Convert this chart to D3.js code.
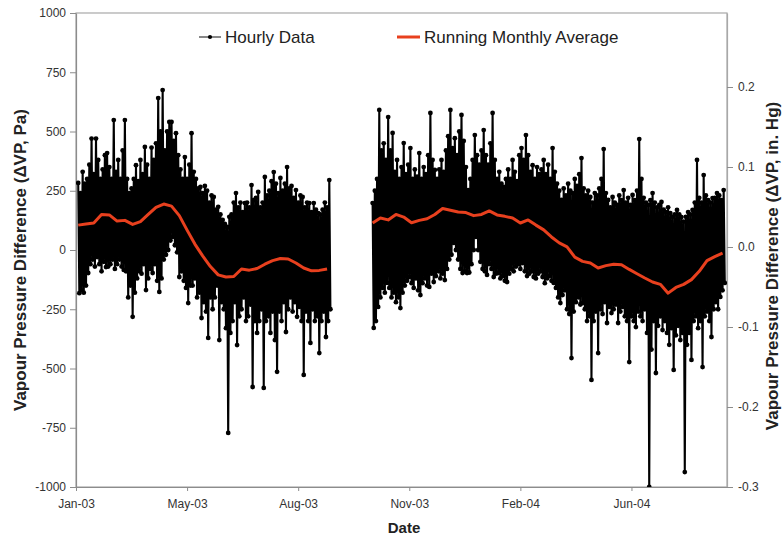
<!DOCTYPE html>
<html>
<head>
<meta charset="utf-8">
<script src="https://cdn.jsdelivr.net/npm/d3@7"></script>
<style>
  html, body { margin: 0; padding: 0; background: #fff; }
  svg { display: block; font-family: "Liberation Sans", Arial, sans-serif; }
</style>
</head>
<body>
<svg id="chart" width="784" height="539"></svg>
<script>
// Time axis origin and major tick spacing (days)
const axisStart = Date.UTC(2003, 0, 23);
const axisSpanDays = 586;
const tickStepDays = 100;
const tickCount = 6;

// Left (Pa) and right (in. Hg) tick values
const paTicks = [-1000, -750, -500, -250, 0, 250, 500, 750, 1000];
const inHgTicks = [-0.3, -0.2, -0.1, 0.0, 0.1, 0.2];

// Hourly record, first logging period: start day (from axis origin), 2-day step,
// daily upper and lower extremes in Pa
const seg1StartDay = 2;
const seg1High = [
  283, 240, 330, 280, 300, 360, 470, 320, 470, 380,
  300, 340, 400, 409, 350, 300, 548, 330, 380, 300,
  420, 548, 300, 240, 260, 300, 358, 290, 380, 320,
  435, 360, 300, 432, 380, 450, 641, 500, 675, 420,
  500, 540, 540, 460, 493, 400, 340, 300, 392, 300,
  360, 493, 330, 300, 260, 266, 240, 270, 250, 200,
  230, 224, 170, 182, 150, 127, 110, 97, 140, 150,
  200, 240, 180, 200, 160, 198, 200, 180, 274, 210,
  220, 245, 180, 200, 308, 230, 250, 290, 329, 280,
  240, 304, 250, 280, 350, 260, 270, 220, 253, 200,
  230, 224, 180, 200, 198, 160, 198, 170, 156, 150,
  170, 200, 180, 295
];
const seg1Low = [
  -182, -170, -180, -150, -97, -60, -40, -70, -30, -60,
  -90, -50, -72, -70, -60, -40, -80, -60, -40, -70,
  -84, -90, -200, -150, -282, -180, -120, -90, -100, -60,
  -169, -120, -80, -97, -60, -130, -177, -120, -40, -20,
  0, 40, 55, 20, -10, -114, -90, -130, -160, -224,
  -150, -150, -120, -200, -180, -287, -220, -260, -371, -200,
  -250, -200, -150, -380, -220, -250, -330, -772, -350, -300,
  -220, -401, -280, -250, -200, -300, -280, -230, -578, -300,
  -350, -300, -250, -582, -300, -280, -350, -260, -380, -514,
  -260, -300, -220, -346, -250, -200, -260, -220, -282, -240,
  -300, -527, -260, -300, -392, -250, -300, -280, -435, -300,
  -260, -367, -300, -250
];

// Hourly record, second logging period
const seg2StartDay = 267;
const seg2High = [
  198, 250, 300, 591, 420, 450, 380, 561, 420, 494,
  330, 380, 300, 350, 451, 320, 360, 430, 300, 340,
  310, 409, 300, 350, 320, 400, 578, 380, 338, 300,
  340, 380, 330, 420, 480, 591, 430, 472, 400, 500,
  570, 460, 350, 253, 300, 380, 485, 400, 360, 420,
  506, 400, 360, 450, 578, 380, 300, 330, 280, 266,
  300, 340, 300, 380, 330, 290, 400, 430, 380, 485,
  400, 330, 358, 300, 350, 320, 340, 380, 320, 360,
  300, 430, 330, 280, 250, 211, 260, 230, 280, 250,
  240, 300, 270, 320, 388, 260, 230, 250, 224, 200,
  240, 230, 260, 300, 426, 240, 211, 180, 224, 200,
  190, 230, 210, 253, 200, 220, 190, 232, 210, 250,
  468, 300, 220, 200, 190, 210, 240, 200, 180, 190,
  203, 170, 160, 180, 156, 140, 150, 169, 150, 139,
  120, 140, 160, 150, 169, 200, 380, 220, 200, 316,
  230, 210, 200, 219, 220, 240, 230, 210, 253
];
const seg2Low = [
  -329, -300, -240, -200, -160, -180, -139, -160, -200, -180,
  -220, -200, -245, -180, -150, -130, -114, -140, -160, -120,
  -170, -190, -140, -120, -150, -156, -100, -135, -110, -90,
  -120, -100, -127, -80, -40, -20, 30, 0, -40, -80,
  -97, -90, -97, -95, -60, 0, 55, 0, -50, -80,
  -90, -105, -60, -80, -114, -100, -97, -120, -110, -130,
  -135, -100, -80, -90, -70, -60, -80, -55, -90, -110,
  -100, -90, -114, -120, -100, -90, -114, -140, -120, -110,
  -130, -139, -160, -200, -224, -190, -170, -250, -270, -456,
  -260, -220, -200, -230, -224, -250, -300, -280, -548, -300,
  -260, -435, -250, -270, -220, -308, -240, -266, -250, -230,
  -308, -260, -240, -280, -300, -473, -280, -300, -325, -260,
  -280, -300, -250, -350, -1000, -420, -300, -519, -320, -280,
  -338, -300, -350, -400, -330, -506, -360, -320, -380, -350,
  -937, -400, -350, -464, -300, -280, -330, -300, -494, -280,
  -260, -300, -367, -250, -220, -250, -198, -170, -139
];

// Running monthly average, sampled weekly (Pa)
const avgStep = 7;
const avg1 = [
  105, 110, 114, 150, 148, 122, 125, 108, 120, 150,
  180, 194, 185, 145, 84, 25, -25, -70, -105, -114,
  -112, -80, -85, -78, -60, -45, -36, -38, -55, -76,
  -88, -86, -80
];
const avg2 = [
  114, 135, 127, 150, 139, 115, 125, 132, 150, 175,
  168, 160, 158, 145, 150, 165, 148, 142, 135, 114,
  127, 105, 85, 55, 30, 13, -30, -48, -55, -76,
  -66, -60, -62, -82, -100, -118, -135, -145, -182, -158,
  -145, -125, -90, -45, -28, -13
];

const legendLabels = ["Hourly Data", "Running Monthly Average"];
const DAY = 86400000;
const dayToDate = d => new Date(axisStart + d * DAY);

const svg = d3.select("#chart");
const plot = { left: 76, right: 727, top: 13, bottom: 487 };

const x = d3.scaleUtc()
  .domain([dayToDate(0), dayToDate(axisSpanDays)])
  .range([plot.left, plot.right]);
const y = d3.scaleLinear().domain([-1000, 1000]).range([plot.bottom, plot.top]);
const yR = d3.scaleLinear().domain([-0.3, 0.2925]).range([plot.bottom, plot.top]);

// Build the zig-zag hourly traces (upper extreme, then lower extreme the next day)
function hourlyPoints(startDay, hi, lo) {
  const pts = [];
  hi.forEach((h, i) => {
    pts.push({ t: dayToDate(startDay + 2 * i), v: h });
    pts.push({ t: dayToDate(startDay + 2 * i + 1), v: lo[i] });
  });
  return pts;
}
const avgPoints = (startDay, vals) =>
  vals.map((v, i) => ({ t: dayToDate(startDay + avgStep * i), v }));

const hourly = [hourlyPoints(seg1StartDay, seg1High, seg1Low),
                hourlyPoints(seg2StartDay, seg2High, seg2Low)];
const running = [avgPoints(seg1StartDay, avg1), avgPoints(seg2StartDay, avg2)];

svg.append("defs").append("clipPath").attr("id", "plotClip")
  .append("rect")
  .attr("x", plot.left).attr("y", plot.top)
  .attr("width", plot.right - plot.left).attr("height", plot.bottom - plot.top);

// Frame
svg.append("rect")
  .attr("x", plot.left).attr("y", plot.top)
  .attr("width", plot.right - plot.left).attr("height", plot.bottom - plot.top)
  .attr("fill", "#fff").attr("stroke", "#a8a8a8").attr("stroke-width", 1.2);

// Axes
const axisStyle = g => {
  g.select(".domain").attr("stroke", "#8c8c8c").attr("stroke-width", 1.2);
  g.selectAll(".tick line").attr("stroke", "#8c8c8c");
  g.selectAll("text")
    .attr("font-size", 12).attr("fill", "#333")
    .attr("font-family", "Liberation Sans, Arial, sans-serif");
};

svg.append("g")
  .attr("transform", `translate(${plot.left},0)`)
  .call(d3.axisLeft(y).tickValues(paTicks).tickSize(6).tickPadding(4)
        .tickFormat(d => String(d)).tickSizeOuter(0))
  .call(axisStyle);

svg.append("g")
  .attr("transform", `translate(${plot.right},0)`)
  .call(d3.axisRight(yR).tickValues(inHgTicks).tickSize(6).tickPadding(5)
        .tickFormat(d => d.toFixed(1)).tickSizeOuter(0))
  .call(axisStyle)
  .call(g => g.select(".domain").attr("stroke", "#a8a8a8"));

const xTicks = d3.range(tickCount).map(i => dayToDate(i * tickStepDays));
svg.append("g")
  .attr("transform", `translate(0,${plot.bottom})`)
  .call(d3.axisBottom(x).tickValues(xTicks).tickSize(4).tickPadding(8)
        .tickFormat(d3.utcFormat("%b-%y")).tickSizeOuter(0))
  .call(axisStyle);

// Series
const line = d3.line().x(d => x(d.t)).y(d => y(d.v));
const series = svg.append("g").attr("clip-path", "url(#plotClip)");

hourly.forEach(pts => {
  series.append("path").datum(pts)
    .attr("d", line).attr("fill", "none")
    .attr("stroke", "#000").attr("stroke-width", 2.1)
    .attr("stroke-linejoin", "round");
  series.append("g").selectAll("circle").data(pts).join("circle")
    .attr("cx", d => x(d.t)).attr("cy", d => y(d.v)).attr("r", 2.4)
    .attr("fill", "#000");
});

running.forEach(pts => {
  series.append("path").datum(pts)
    .attr("d", line).attr("fill", "none")
    .attr("stroke", "#e8401e").attr("stroke-width", 3)
    .attr("stroke-linejoin", "round");
});

// Axis titles
const midY = (plot.top + plot.bottom) / 2 + 10;
svg.append("text")
  .attr("transform", `translate(26,${midY}) rotate(-90)`)
  .attr("text-anchor", "middle").attr("font-weight", "bold")
  .attr("font-size", 17).attr("fill", "#222")
  .text("Vapour Pressure Difference (ΔVP, Pa)");

svg.append("text")
  .attr("transform", `translate(778,${midY + 6}) rotate(-90)`)
  .attr("text-anchor", "middle").attr("font-weight", "bold")
  .attr("font-size", 17).attr("fill", "#222")
  .text("Vapour Pressure Difference (ΔVP, in. Hg)");

svg.append("text")
  .attr("x", 404).attr("y", 533)
  .attr("text-anchor", "middle").attr("font-weight", "bold")
  .attr("font-size", 15).attr("fill", "#222")
  .text("Date");

// Legend
const legend = svg.append("g");
const lg1 = legend.append("g").attr("transform", "translate(199,37)");
lg1.append("line").attr("x1", 0).attr("x2", 22).attr("stroke", "#111").attr("stroke-width", 1);
lg1.append("circle").attr("cx", 11).attr("r", 2.1).attr("fill", "#000");
lg1.append("text").attr("x", 26).attr("dy", "0.35em")
  .attr("font-size", 17).attr("fill", "#222").text(legendLabels[0]);

const lg2 = legend.append("g").attr("transform", "translate(397,37)");
lg2.append("line").attr("x1", 0).attr("x2", 23).attr("stroke", "#e8401e").attr("stroke-width", 3);
lg2.append("text").attr("x", 27).attr("dy", "0.35em")
  .attr("font-size", 17).attr("fill", "#222").text(legendLabels[1]);
</script>
</body>
</html>
